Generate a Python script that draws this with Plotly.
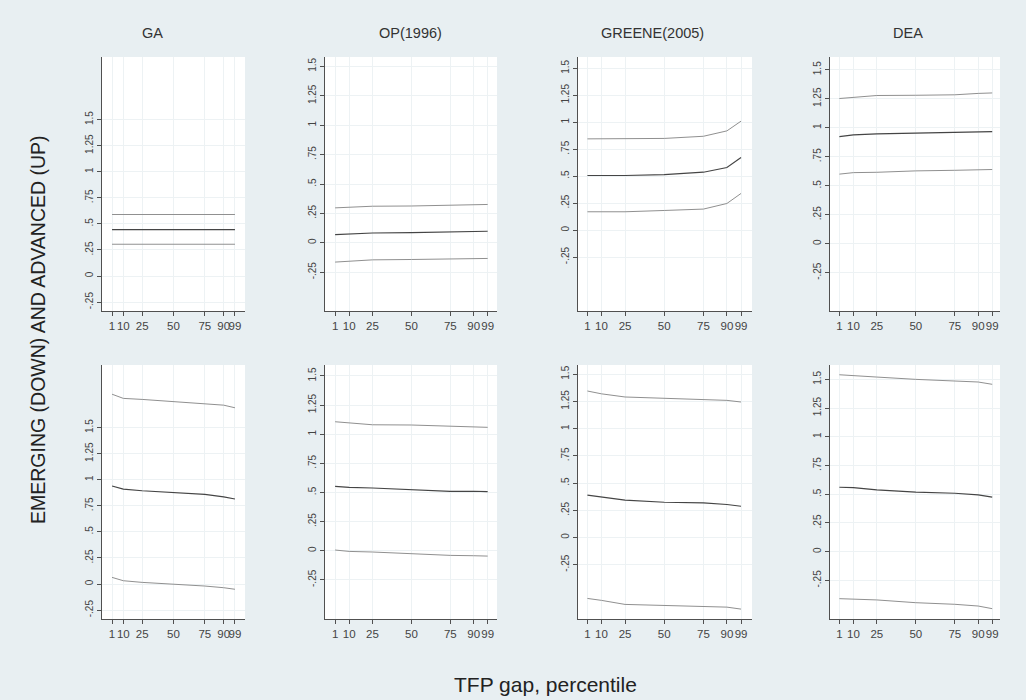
import plotly.graph_objects as go

# ---------------- data ----------------
pct = [1, 10, 25, 50, 75, 90, 99]
x_tick_vals = [1, 10, 25, 50, 75, 90, 99]
x_tick_text = ["1", "10", "25", "50", "75", "90", "99"]
y_tick_vals = [-0.25, 0, 0.25, 0.5, 0.75, 1, 1.25, 1.5]
y_tick_text = ["-.25", "0", ".25", ".5", ".75", "1", "1.25", "1.5"]
methods = ["GA", "OP(1996)", "GREENE(2005)", "DEA"]
y_title = "EMERGING (DOWN) AND ADVANCED (UP)"
x_title = "TFP gap, percentile"

# top row: ADVANCED (UP)  -> lower CI, estimate, upper CI
ga_up_lower = [0.305, 0.305, 0.305, 0.305, 0.305, 0.305, 0.305]
ga_up_mid = [0.445, 0.445, 0.445, 0.445, 0.445, 0.445, 0.445]
ga_up_upper = [0.59, 0.59, 0.59, 0.59, 0.59, 0.59, 0.59]

op_up_lower = [-0.164, -0.158, -0.145, -0.142, -0.137, -0.135, -0.133]
op_up_mid = [0.069, 0.075, 0.083, 0.086, 0.095, 0.096, 0.098]
op_up_upper = [0.297, 0.302, 0.311, 0.313, 0.32, 0.322, 0.326]

gr_up_lower = [0.17, 0.17, 0.17, 0.182, 0.195, 0.247, 0.34]
gr_up_mid = [0.506, 0.506, 0.506, 0.515, 0.537, 0.58, 0.673]
gr_up_upper = [0.846, 0.846, 0.846, 0.85, 0.87, 0.92, 1.01]

dea_up_lower = [0.60, 0.613, 0.616, 0.628, 0.633, 0.636, 0.64]
dea_up_mid = [0.924, 0.938, 0.947, 0.953, 0.958, 0.965, 0.967]
dea_up_upper = [1.252, 1.264, 1.278, 1.28, 1.284, 1.296, 1.30]

# bottom row: EMERGING (DOWN)
ga_dn_lower = [0.064, 0.032, 0.016, 0.0, -0.019, -0.035, -0.05]
ga_dn_mid = [0.94, 0.91, 0.894, 0.875, 0.86, 0.836, 0.815]
ga_dn_upper = [1.82, 1.78, 1.77, 1.75, 1.73, 1.715, 1.69]

op_dn_lower = [0.006, -0.006, -0.011, -0.026, -0.04, -0.043, -0.046]
op_dn_mid = [0.552, 0.544, 0.538, 0.521, 0.51, 0.51, 0.507]
op_dn_upper = [1.107, 1.096, 1.081, 1.079, 1.067, 1.062, 1.059]

gr_dn_lower = [-0.56, -0.578, -0.615, -0.624, -0.637, -0.64, -0.658]
gr_dn_mid = [0.389, 0.373, 0.343, 0.324, 0.318, 0.303, 0.287]
gr_dn_upper = [1.346, 1.32, 1.291, 1.28, 1.266, 1.26, 1.245]

dea_dn_lower = [-0.409, -0.412, -0.42, -0.444, -0.458, -0.473, -0.496]
dea_dn_mid = [0.561, 0.558, 0.538, 0.518, 0.509, 0.495, 0.475]
dea_dn_upper = [1.54, 1.531, 1.52, 1.5, 1.486, 1.477, 1.457]

panels_data = [
    (ga_up_lower, ga_up_mid, ga_up_upper),
    (op_up_lower, op_up_mid, op_up_upper),
    (gr_up_lower, gr_up_mid, gr_up_upper),
    (dea_up_lower, dea_up_mid, dea_up_upper),
    (ga_dn_lower, ga_dn_mid, ga_dn_upper),
    (op_dn_lower, op_dn_mid, op_dn_upper),
    (gr_dn_lower, gr_dn_mid, gr_dn_upper),
    (dea_dn_lower, dea_dn_mid, dea_dn_upper),
]

# ---------------- layout geometry (pixels) ----------------
W, H = 1026, 700
col_px = [(102, 245), (325, 497), (578, 752), (830, 1000)]
row_px = [(57, 311), (365, 619)]
x_ranges = [(-7, 107), (-5.5, 105), (-5, 106), (-5, 104)]
y_ranges = [
    (-0.335, 2.10), (-0.58, 1.58), (-0.75, 1.605), (-0.58, 1.61),
    (-0.335, 2.10), (-0.586, 1.594), (-0.749, 1.585), (-0.586, 1.625),
]

FONT = "Liberation Sans, Arial, sans-serif"
BG = "#e8eff2"
axis_col = "#505050"
grid_col = "#edf2f4"
ci_col = "#909090"
mid_col = "#454545"

fig = go.Figure()
layout = {}
for i in range(8):
    r, c = divmod(i, 4)
    n = i + 1
    xa = "x" if n == 1 else f"x{n}"
    ya = "y" if n == 1 else f"y{n}"
    lo, mid, up = panels_data[i]
    for series, col, w in ((up, ci_col, 1.0), (mid, mid_col, 1.15), (lo, ci_col, 1.0)):
        fig.add_trace(go.Scatter(x=pct, y=series, mode="lines",
                                 line=dict(color=col, width=w),
                                 xaxis=xa, yaxis=ya, showlegend=False,
                                 hoverinfo="skip"))
    l, rr = col_px[c]
    t, b = row_px[r]
    layout["xaxis" if n == 1 else f"xaxis{n}"] = dict(
        domain=[l / W, rr / W], range=list(x_ranges[c]), anchor=ya,
        tickmode="array", tickvals=x_tick_vals, ticktext=x_tick_text,
        tickangle=0,
        ticks="outside", ticklen=4, tickcolor=axis_col, tickwidth=1,
        showline=True, linecolor=axis_col, linewidth=1,
        showgrid=True, gridcolor=grid_col, gridwidth=1, zeroline=False,
        tickfont=dict(family=FONT, size=11.5, color="#444444"),
    )
    layout["yaxis" if n == 1 else f"yaxis{n}"] = dict(
        domain=[1 - b / H, 1 - t / H], range=list(y_ranges[i]), anchor=xa,
        tickmode="array", tickvals=y_tick_vals, ticktext=y_tick_text,
        tickangle=-90,
        ticks="outside", ticklen=4, tickcolor=axis_col, tickwidth=1,
        showline=True, linecolor=axis_col, linewidth=1,
        showgrid=True, gridcolor=grid_col, gridwidth=1, zeroline=False,
        tickfont=dict(family=FONT, size=10, color="#444444"),
    )

title_x_px = [152, 410, 652, 908]
annotations = []
for name, xp in zip(methods, title_x_px):
    annotations.append(dict(text=name, x=xp / W, y=1 - 33 / H, xref="paper", yref="paper",
                            showarrow=False, xanchor="center", yanchor="middle",
                            font=dict(family=FONT, size=14.5, color="#333333")))
annotations.append(dict(text=y_title, x=38 / W, y=1 - 330 / H, xref="paper", yref="paper",
                        showarrow=False, xanchor="center", yanchor="middle", textangle=-90,
                        font=dict(family=FONT, size=19.5, color="#222222")))
annotations.append(dict(text=x_title, x=545 / W, y=1 - 684 / H, xref="paper", yref="paper",
                        showarrow=False, xanchor="center", yanchor="middle",
                        font=dict(family=FONT, size=21, color="#222222")))

fig.update_layout(
    width=W, height=H,
    margin=dict(l=0, r=0, t=0, b=0),
    paper_bgcolor=BG,
    plot_bgcolor="#ffffff",
    annotations=annotations,
    **layout,
)

fig.write_html(
    "out.html",
    config={"displayModeBar": False},
    post_script="document.body.style.margin='0';document.body.style.background='%s';" % BG,
)
